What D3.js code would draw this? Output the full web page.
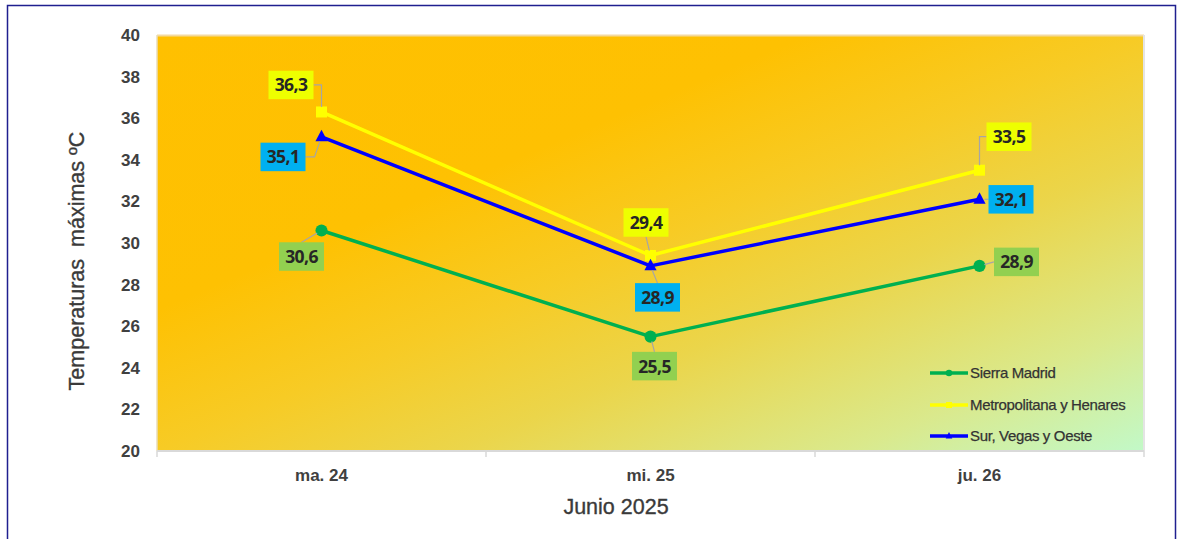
<!DOCTYPE html>
<html><head><meta charset="utf-8">
<script src="https://cdn.jsdelivr.net/npm/d3@7"></script>
<style>
html,body{margin:0;padding:0;background:#fff;}
svg{display:block;}
</style></head>
<body>
<svg id="chart" width="1180" height="539"></svg>
<script>
const categories = ["ma. 24", "mi. 25", "ju. 26"];
const seriesNames = ["Sierra Madrid", "Metropolitana y Henares", "Sur, Vegas y Oeste"];
const sierraMadrid = [30.6, 25.5, 28.9];
const metropolitana = [36.3, 29.4, 33.5];
const surVegasOeste = [35.1, 28.9, 32.1];
const yTicks = [20, 22, 24, 26, 28, 30, 32, 34, 36, 38, 40];
const yTitle = "Temperaturas  máximas ºC";
const xTitle = "Junio 2025";

const lineColors = ["#00B050", "#FFFF00", "#0000FF"];
const labelFills = ["#92D050", "#EEFF00", "#00B0F0"];
const markerTypes = ["circle", "square", "triangle"];
// label box layout (offset of box center from point, leader anchor side, elbow length)
const labelLayout = [
  [{dx:-20,dy:26,side:"top",elbow:0},{dx:4,dy:29.5,side:"top",elbow:0},{dx:37,dy:-4,side:"left",elbow:0}],
  [{dx:-30.5,dy:-27,side:"right",elbow:8},{dx:-4.5,dy:-33,side:"bottom",elbow:0},{dx:29.5,dy:-33.5,side:"left",elbow:-7}],
  [{dx:-38.5,dy:20,side:"right",elbow:9},{dx:7,dy:31.5,side:"top",elbow:0},{dx:31.5,dy:0,side:"left",elbow:0}]
];

const series = [sierraMadrid, metropolitana, surVegasOeste];
const fmt = v => String(v.toFixed(1)).replace(".", ",");

const svg = d3.select("#chart");
const defs = svg.append("defs");
const grad = defs.append("linearGradient").attr("id","bg")
  .attr("x1",0).attr("y1",0).attr("x2",1).attr("y2",1);
[[0,"#FFC000"],[0.33,"#FEC102"],[0.5,"#F7CB25"],[0.65,"#EBD54A"],[0.85,"#DAE98C"],[1,"#C2F9C8"]]
  .forEach(([o,c]) => grad.append("stop").attr("offset",o).attr("stop-color",c));

// outer border
svg.append("rect").attr("x",7.5).attr("y",5.5).attr("width",1168).attr("height",545)
  .attr("fill","none").attr("stroke","#1F1F8F").attr("stroke-width",1.5);

const m = {left:157, top:35, right:1144, bottom:451};
const x = d3.scaleBand().domain(categories).range([m.left, m.right]);
const y = d3.scaleLinear().domain([20, 40]).range([m.bottom, m.top]);

// plot area
svg.append("rect").attr("x",m.left).attr("y",m.top)
  .attr("width",m.right-m.left).attr("height",m.bottom-m.top)
  .attr("fill","url(#bg)");
svg.append("line").attr("x1",m.left).attr("x2",m.right).attr("y1",m.top+0.5).attr("y2",m.top+0.5)
  .attr("stroke","#F3D9A0").attr("stroke-width",2);
svg.append("line").attr("x1",m.right).attr("x2",m.right).attr("y1",m.top).attr("y2",m.bottom)
  .attr("stroke","#E4E4E4").attr("stroke-width",2);
svg.append("line").attr("x1",m.left).attr("x2",m.left).attr("y1",m.top).attr("y2",m.bottom)
  .attr("stroke","#E8DCB8").attr("stroke-width",1.5);

// y axis
const yAxis = d3.axisLeft(y).tickValues(yTicks).tickSize(0).tickPadding(17).tickFormat(d3.format("d"));
const gy = svg.append("g").attr("transform",`translate(${m.left},0)`).call(yAxis);
gy.select(".domain").remove();
gy.selectAll("text").attr("font-family","Liberation Sans, Arial, sans-serif")
  .attr("font-size",17).attr("font-weight","bold").attr("fill","#404040");

// x axis
const xAxis = d3.axisBottom(x).tickSize(0).tickPadding(18);
const gx = svg.append("g").attr("transform",`translate(0,${m.bottom})`).call(xAxis);
gx.select(".domain").attr("stroke","#D9D9D9").attr("stroke-width",2).attr("d",`M${m.left},0H${m.right}`);
gx.selectAll("text").attr("font-family","Liberation Sans, Arial, sans-serif")
  .attr("font-size",17).attr("font-weight","bold").attr("fill","#404040");
const bounds = categories.map(c => x(c)).concat([m.right]);
gx.selectAll("line.bt").data(bounds).enter().append("line").attr("class","bt")
  .attr("x1",d=>d).attr("x2",d=>d).attr("y1",0).attr("y2",6)
  .attr("stroke","#D9D9D9").attr("stroke-width",1.5);

// titles
svg.append("text").attr("transform",`translate(84,261) rotate(-90)`)
  .attr("text-anchor","middle").attr("font-family","Liberation Sans, Arial, sans-serif")
  .attr("font-size",21.5).attr("fill","#3A3A3A").attr("stroke","#3A3A3A").attr("stroke-width",0.35)
  .style("white-space","pre").text(yTitle);
svg.append("text").attr("x",616).attr("y",514).attr("text-anchor","middle")
  .attr("font-family","Liberation Sans, Arial, sans-serif").attr("font-size",21.5)
  .attr("fill","#3A3A3A").attr("stroke","#3A3A3A").attr("stroke-width",0.35).text(xTitle);

const cx = c => x(c) + x.bandwidth()/2;

function drawMarker(g, type, px, py, color, s) {
  if (type === "circle") g.append("circle").attr("cx",px).attr("cy",py).attr("r",s*0.55).attr("fill",color);
  else if (type === "square") g.append("rect").attr("x",px-s/2).attr("y",py-s/2).attr("width",s).attr("height",s).attr("fill",color);
  else g.append("path").attr("d",`M${px},${py-s*0.65}L${px+s*0.55},${py+s*0.4}L${px-s*0.55},${py+s*0.4}Z`).attr("fill",color);
}

// lines + markers
const line = d3.line().x((d,i)=>cx(categories[i])).y(d=>y(d));
series.forEach((vals, si) => {
  const g = svg.append("g");
  g.append("path").datum(vals).attr("d",line).attr("fill","none")
    .attr("stroke",lineColors[si]).attr("stroke-width",3.5).attr("stroke-linejoin","round");
  vals.forEach((v,i) => drawMarker(g, markerTypes[si], cx(categories[i]), y(v), lineColors[si], 11));
});

// labels
const bw = 45, bh = 28.5;
series.forEach((vals, si) => {
  vals.forEach((v,i) => {
    const L = labelLayout[si][i];
    const px = cx(categories[i]), py = y(v);
    const bx = px + L.dx, by = py + L.dy;
    let ax = bx, ay = by;
    if (L.side==="right") ax = bx + bw/2;
    if (L.side==="left") ax = bx - bw/2;
    if (L.side==="top") ay = by - bh/2;
    if (L.side==="bottom") ay = by + bh/2;
    const pts = [[ax,ay]];
    if (L.elbow) pts.push([ax+L.elbow, ay]);
    const last = pts[pts.length-1];
    const ddx = px-last[0], ddy = py-last[1], dist = Math.hypot(ddx,ddy);
    const off = Math.min(5, dist);
    pts.push([px - ddx/dist*off, py - ddy/dist*off]);
    svg.append("path").attr("d", d3.line()(pts)).attr("fill","none")
      .attr("stroke","#A6A6A6").attr("stroke-width",1.2);
    svg.append("rect").attr("x",bx-bw/2).attr("y",by-bh/2).attr("width",bw).attr("height",bh)
      .attr("fill",labelFills[si]);
    svg.append("text").attr("x",bx).attr("y",by+6.5).attr("text-anchor","middle")
      .attr("font-family","Open Sans, sans-serif").attr("font-weight","bold").attr("font-size",17.5)
      .attr("letter-spacing",-0.6).attr("fill","#262626").text(fmt(v));
  });
});

// legend
const legY = [373, 405, 436];
seriesNames.forEach((name, si) => {
  const g = svg.append("g");
  g.append("line").attr("x1",930).attr("x2",968).attr("y1",legY[si]).attr("y2",legY[si])
    .attr("stroke",lineColors[si]).attr("stroke-width",3.5);
  drawMarker(g, markerTypes[si], 949, legY[si], lineColors[si], 6);
  g.append("text").attr("x",970).attr("y",legY[si]+5).attr("font-family","Liberation Sans, Arial, sans-serif")
    .attr("font-size",15).attr("letter-spacing",-0.35).attr("fill","#333333")
    .attr("stroke","#333333").attr("stroke-width",0.25).text(name);
});
</script>
</body></html>
